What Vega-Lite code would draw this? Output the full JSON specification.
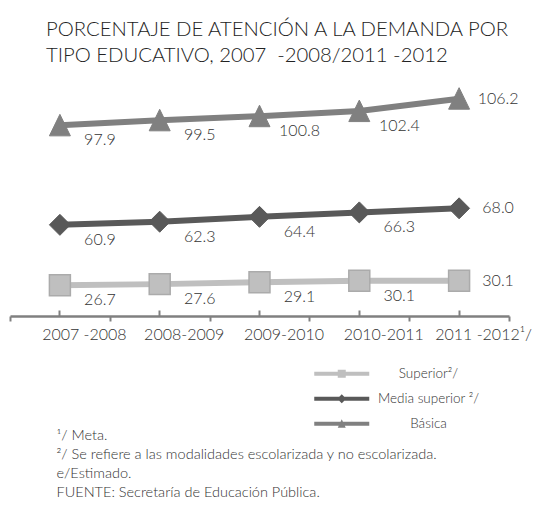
{
  "$schema": "https://vega.github.io/schema/vega-lite/v6.json",
  "width": 499,
  "height": 219,
  "autosize": {"type": "none"},
  "padding": {"left": 10, "top": 86, "right": 45, "bottom": 208},
  "background": "white",
  "config": {"view": {"stroke": null}, "font": "Lato"},
  "title": {
    "text": ["PORCENTAJE DE ATENCIÓN A LA DEMANDA POR", "TIPO EDUCATIVO, 2007\u00a0 -2008/2011 -2012"],
    "anchor": "start",
    "frame": "group",
    "fontSize": 20.3,
    "fontWeight": 300,
    "font": "Lato",
    "color": "#222222",
    "lineHeight": 26,
    "offset": 19,
    "dx": 36
  },
  "data": {
    "values": [
      {"periodo": "2007 -2008", "tipo": "Superior", "valor": 26.7},
      {"periodo": "2008-2009", "tipo": "Superior", "valor": 27.6},
      {"periodo": "2009-2010", "tipo": "Superior", "valor": 29.1},
      {"periodo": "2010-2011", "tipo": "Superior", "valor": 30.1},
      {"periodo": "2011 -2012", "tipo": "Superior", "valor": 30.1},
      {"periodo": "2007 -2008", "tipo": "Media superior", "valor": 60.9},
      {"periodo": "2008-2009", "tipo": "Media superior", "valor": 62.3},
      {"periodo": "2009-2010", "tipo": "Media superior", "valor": 64.4},
      {"periodo": "2010-2011", "tipo": "Media superior", "valor": 66.3},
      {"periodo": "2011 -2012", "tipo": "Media superior", "valor": 68.0},
      {"periodo": "2007 -2008", "tipo": "Básica", "valor": 97.9},
      {"periodo": "2008-2009", "tipo": "Básica", "valor": 99.5},
      {"periodo": "2009-2010", "tipo": "Básica", "valor": 100.8},
      {"periodo": "2010-2011", "tipo": "Básica", "valor": 102.4},
      {"periodo": "2011 -2012", "tipo": "Básica", "valor": 106.2}
    ]
  },
  "layer": [
    {
      "mark": {"type": "line", "strokeWidth": 6},
      "encoding": {
        "x": {
          "field": "periodo", "type": "ordinal", "bandPosition": 0.5,
          "sort": ["2007 -2008", "2008-2009", "2009-2010", "2010-2011", "2011 -2012"],
          "scale": {"type": "band", "paddingInner": 0, "paddingOuter": 0},
          "axis": {
            "orient": "bottom", "offset": 11, "tickBand": "extent", "grid": false,
            "domainColor": "#808080", "domainWidth": 2.5,
            "tickColor": "#808080", "tickWidth": 2, "tickSize": 5,
            "labelFont": "Lato", "labelFontSize": 16, "labelFontWeight": 300, "labelColor": "#333333",
            "labelPadding": 5, "labelOverlap": false, "labelAngle": 0, "labelOffset": 24,
            "labelExpr": "datum.label === '2011 -2012' ? datum.label + '¹/' : datum.label",
            "title": ["¹/ Meta.", "²/ Se refiere a las modalidades escolarizada y no escolarizada.", "e/Estimado.", "FUENTE: Secretaría de Educación Pública."],
            "titleFont": "Lato", "titleFontSize": 14.5, "titleFontWeight": 300, "titleColor": "#333333",
            "titleAlign": "left", "titleBaseline": "top", "titleAnchor": "start",
            "titleX": 46, "titleY": 112, "titleLineHeight": 19, "titleAngle": 0
          }
        },
        "y": {"field": "valor", "type": "quantitative", "scale": {"type": "pow", "exponent": 1.7, "domain": [0, 110]}, "axis": null},
        "color": {
          "field": "tipo", "type": "nominal",
          "scale": {"domain": ["Superior", "Media superior", "Básica"], "range": ["#bfbfbf", "#595959", "#808080"]},
          "legend": {
            "orient": "none", "legendX": 325, "legendY": 281, "title": null, "padding": 0,
            "symbolSize": 100, "rowPadding": 10, "symbolStrokeWidth": 0,
            "labelFont": "Lato", "labelFontSize": 13.5, "labelFontWeight": 300, "labelColor": "#333333",
            "labelAlign": "center", "labelOffset": 80,
            "labelExpr": "datum.label === 'Básica' ? datum.label : (datum.label === 'Superior' ? 'Superior²/' : 'Media superior ²/')",
            "encode": {
              "symbols": {
                "update": {
                  "shape": {"signal": "datum.value === 'Superior' ? 'M-5.5,-0.4H5.5V0.4H-5.5Z M-0.8,-0.8H0.8V0.8H-0.8Z' : (datum.value === 'Media superior' ? 'M-5.5,-0.4H5.5V0.4H-5.5Z M-0.9,0L0,-0.9L0.9,0L0,0.9Z' : 'M-5.5,-0.4H5.5V0.4H-5.5Z M0,-0.9L0.8,0.8L-0.8,0.8Z')"},
                  "fill": {"signal": "datum.value === 'Superior' ? '#bfbfbf' : (datum.value === 'Media superior' ? '#595959' : '#808080')"},
                  "stroke": {"value": "transparent"},
                  "size": {"value": 100},
                  "opacity": {"value": 1}
                }
              }
            }
          }
        }
      }
    },
    {
      "transform": [{"filter": "datum.tipo === 'Superior'"}],
      "mark": {"type": "point", "filled": true, "size": 440, "shape": "square", "fill": "#bfbfbf", "stroke": "#ababab", "strokeWidth": 1.5, "opacity": 1},
      "encoding": {
        "x": {
          "field": "periodo", "type": "ordinal", "bandPosition": 0.5,
          "sort": ["2007 -2008", "2008-2009", "2009-2010", "2010-2011", "2011 -2012"],
          "axis": {
            "orient": "bottom", "offset": 5, "domain": false, "labels": false, "title": null, "grid": false,
            "tickColor": "#808080", "tickWidth": 2, "tickSize": 6
          }
        },
        "y": {"field": "valor", "type": "quantitative", "axis": null}
      }
    },
    {
      "transform": [{"filter": "datum.tipo === 'Media superior'"}],
      "mark": {"type": "point", "filled": true, "size": 440, "shape": "diamond", "fill": "#595959", "stroke": "#595959", "strokeWidth": 1, "opacity": 1},
      "encoding": {
        "x": {"field": "periodo", "type": "ordinal", "bandPosition": 0.5, "sort": ["2007 -2008", "2008-2009", "2009-2010", "2010-2011", "2011 -2012"], "axis": null},
        "y": {"field": "valor", "type": "quantitative", "axis": null}
      }
    },
    {
      "transform": [{"filter": "datum.tipo === 'Básica'"}],
      "mark": {"type": "point", "filled": true, "size": 440, "shape": "M0,-1.05L1,1L-1,1Z", "fill": "#808080", "stroke": "#808080", "strokeWidth": 1, "opacity": 1},
      "encoding": {
        "x": {"field": "periodo", "type": "ordinal", "bandPosition": 0.5, "sort": ["2007 -2008", "2008-2009", "2009-2010", "2010-2011", "2011 -2012"], "axis": null},
        "y": {"field": "valor", "type": "quantitative", "axis": null}
      }
    },
    {
      "transform": [{"filter": "datum.periodo !== '2011 -2012'"}],
      "mark": {"type": "text", "dx": 40, "dy": 15, "fontSize": 16, "font": "Lato", "fontWeight": 300, "color": "#333333", "align": "center", "baseline": "middle"},
      "encoding": {
        "x": {"field": "periodo", "type": "ordinal", "bandPosition": 0.5, "sort": ["2007 -2008", "2008-2009", "2009-2010", "2010-2011", "2011 -2012"], "axis": null},
        "y": {"field": "valor", "type": "quantitative", "axis": null},
        "text": {"field": "valor", "type": "quantitative", "format": ".1f"}
      }
    },
    {
      "transform": [{"filter": "datum.periodo === '2011 -2012'"}],
      "mark": {"type": "text", "dx": 39, "dy": 0, "fontSize": 16, "font": "Lato", "fontWeight": 300, "color": "#333333", "align": "center", "baseline": "middle"},
      "encoding": {
        "x": {"field": "periodo", "type": "ordinal", "bandPosition": 0.5, "sort": ["2007 -2008", "2008-2009", "2009-2010", "2010-2011", "2011 -2012"], "axis": null},
        "y": {"field": "valor", "type": "quantitative", "axis": null},
        "text": {"field": "valor", "type": "quantitative", "format": ".1f"}
      }
    }
  ],
  "resolve": {"axis": {"x": "independent"}}
}
